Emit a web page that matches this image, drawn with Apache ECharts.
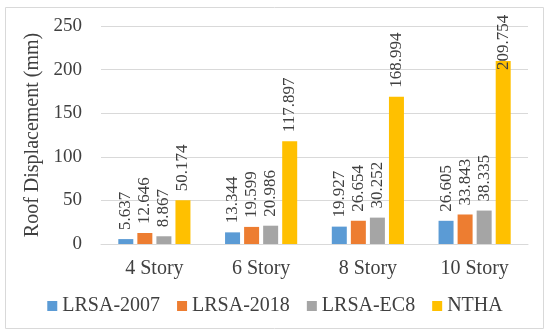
<!DOCTYPE html>
<html>
<head>
<meta charset="utf-8">
<script src="https://cdn.jsdelivr.net/npm/echarts@6/dist/echarts.min.js"></script>
<style>
html,body{margin:0;padding:0;background:#fff;}
#chart{width:550px;height:336px;}
</style>
</head>
<body>
<div id="chart"></div>
<script>
const categories = ['4 Story', '6 Story', '8 Story', '10 Story'];
const seriesNames = ['LRSA-2007', 'LRSA-2018', 'LRSA-EC8', 'NTHA'];
const lrsa2007 = [5.637, 13.344, 19.927, 26.605];
const lrsa2018 = [12.646, 19.599, 26.654, 33.843];
const lrsaEC8 = [8.867, 20.986, 30.252, 38.335];
const ntha = [50.174, 117.897, 168.994, 209.754];
const yTicks = [0, 50, 100, 150, 200, 250];

const colors = ['#5B9BD5', '#ED7D31', '#A5A5A5', '#FFC000'];
const FONT = '"Liberation Serif", "Times New Roman", serif';
const TEXT = '#404040';
const yMax = yTicks[yTicks.length - 1];

function makeData(arr) {
  return arr.map(v => {
    const item = { value: v };
    if (v > 200) {
      item.label = { offset: [-18, 0] };
    }
    return item;
  });
}

const allData = [lrsa2007, lrsa2018, lrsaEC8, ntha];

const chart = echarts.init(document.getElementById('chart'), null, { renderer: 'canvas' });
chart.setOption({
  animation: false,
  color: colors,
  textStyle: { fontFamily: FONT },
  graphic: [{
    type: 'rect',
    shape: { x: 5.5, y: 7.5, width: 538, height: 321 },
    style: { fill: 'none', stroke: '#D9D9D9', lineWidth: 1 },
    silent: true,
    z: -1
  }],
  grid: { left: 101, right: 22, top: 26, bottom: 92, containLabel: false },
  legend: {
    data: seriesNames,
    bottom: 15,
    left: 'center',
    itemWidth: 10,
    itemHeight: 10,
    itemGap: 17,
    icon: 'rect',
    textStyle: { fontFamily: FONT, fontSize: 20, color: TEXT, padding: [0, 0, 0, 0] }
  },
  xAxis: {
    type: 'category',
    data: categories,
    axisLine: { lineStyle: { color: '#D9D9D9', width: 1 } },
    axisTick: { show: false },
    axisLabel: { fontFamily: FONT, fontSize: 20, color: TEXT, margin: 15 }
  },
  yAxis: {
    type: 'value',
    min: 0,
    max: yMax,
    interval: yTicks[1] - yTicks[0],
    name: 'Roof Displacement (mm)',
    nameLocation: 'middle',
    nameGap: 54,
    nameRotate: 90,
    nameTextStyle: { fontFamily: FONT, fontSize: 20, color: TEXT },
    axisLine: { show: false },
    axisTick: { show: false },
    splitLine: { lineStyle: { color: '#D9D9D9', width: 1 } },
    axisLabel: { fontFamily: FONT, fontSize: 19, color: TEXT, margin: 19 }
  },
  series: seriesNames.map((name, i) => ({
    name: name,
    type: 'bar',
    data: makeData(allData[i]),
    barWidth: 15,
    barGap: '27%',
    itemStyle: { color: colors[i] },
    label: {
      show: true,
      position: 'top',
      rotate: 90,
      align: 'left',
      verticalAlign: 'middle',
      distance: 9,
      fontFamily: FONT,
      fontSize: 17,
      color: TEXT,
      formatter: p => p.value.toFixed(3)
    }
  }))
});
</script>
</body>
</html>
